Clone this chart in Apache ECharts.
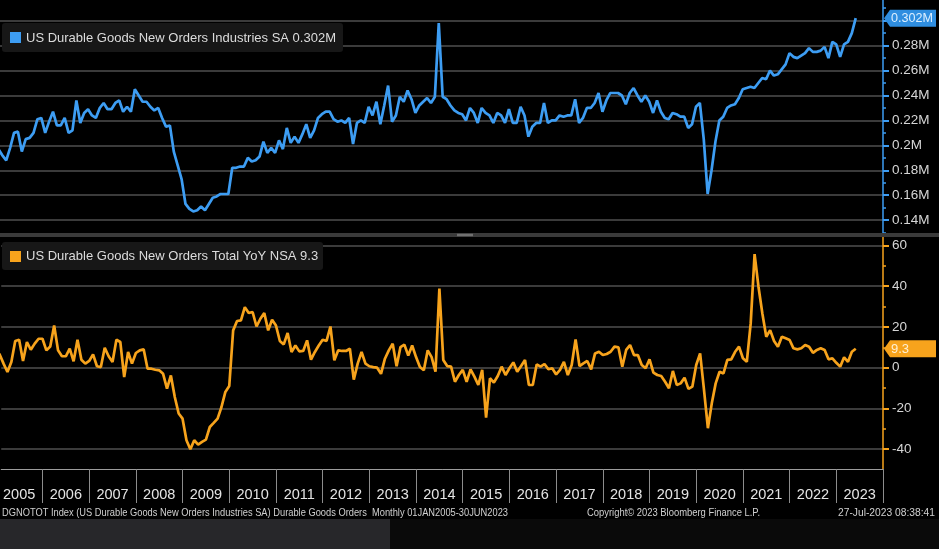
<!DOCTYPE html>
<html><head><meta charset="utf-8">
<script src="https://cdn.jsdelivr.net/npm/echarts@6/dist/echarts.min.js"></script>
<style>html,body{margin:0;padding:0;background:#000;}#c{width:939px;height:549px;}</style>
</head><body><div id="c"></div>
<script>
// ---- data ----
const years = ['2005','2006','2007','2008','2009','2010','2011','2012','2013','2014','2015','2016','2017','2018','2019','2020','2021','2022','2023'];
const durableOrders = [
0.200,0.197,0.192,0.188,0.198,0.210,0.211,0.195,0.205,0.206,0.210,0.221,
0.222,0.210,0.219,0.227,0.216,0.216,0.222,0.210,0.212,0.236,0.218,0.226,
0.229,0.224,0.222,0.230,0.234,0.229,0.229,0.234,0.236,0.227,0.231,0.227,
0.245,0.240,0.235,0.235,0.231,0.228,0.230,0.222,0.215,0.216,0.195,0.184,
0.173,0.153,0.149,0.147,0.148,0.151,0.148,0.153,0.158,0.159,0.161,0.161,
0.161,0.182,0.182,0.183,0.183,0.190,0.187,0.188,0.191,0.203,0.194,0.198,
0.194,0.204,0.197,0.214,0.202,0.207,0.202,0.209,0.217,0.206,0.212,0.222,
0.225,0.227,0.227,0.221,0.219,0.220,0.218,0.222,0.201,0.218,0.220,0.218,
0.231,0.224,0.235,0.217,0.232,0.248,0.219,0.224,0.239,0.235,0.244,0.237,
0.226,0.232,0.235,0.238,0.234,0.239,0.298,0.239,0.237,0.232,0.228,0.226,
0.225,0.220,0.230,0.226,0.218,0.230,0.226,0.224,0.218,0.226,0.224,0.218,
0.229,0.218,0.218,0.231,0.224,0.207,0.215,0.218,0.218,0.234,0.218,0.220,
0.220,0.224,0.223,0.224,0.224,0.237,0.218,0.222,0.230,0.230,0.234,0.242,
0.227,0.236,0.242,0.242,0.242,0.240,0.233,0.242,0.246,0.240,0.235,0.240,
0.235,0.226,0.236,0.227,0.222,0.221,0.226,0.225,0.223,0.223,0.214,0.217,
0.231,0.234,0.205,0.161,0.180,0.203,0.220,0.223,0.230,0.232,0.233,0.238,
0.245,0.246,0.247,0.246,0.250,0.254,0.253,0.260,0.256,0.257,0.261,0.265,
0.274,0.271,0.270,0.272,0.274,0.278,0.275,0.275,0.276,0.279,0.270,0.283,
0.281,0.271,0.281,0.283,0.290,0.302];
const durableYoY = [
8.0,6.5,2.0,-2.1,2.8,13.1,13.7,3.3,12.6,8.8,11.8,14.2,
14.2,8.5,10.4,20.7,8.5,5.6,5.6,9.3,3.1,13.7,3.9,2.0,
3.3,6.5,0.7,0.3,9.8,5.6,2.8,13.7,12.6,-4.6,7.7,2.0,
7.2,8.5,9.0,-0.5,-0.5,-1.0,-1.3,-3.0,-10.3,-3.8,-14.4,-22.5,
-25.0,-35.6,-40.0,-35.6,-37.7,-36.4,-35.3,-29.1,-27.1,-25.0,-19.3,-11.9,
-9.0,18.3,22.9,23.2,29.7,26.8,27.3,20.2,24.0,26.8,18.3,23.5,
20.7,13.1,11.4,17.0,7.7,10.9,8.0,8.2,13.4,3.9,7.7,10.9,
13.7,13.1,20.2,3.6,8.5,8.2,8.2,9.3,-5.9,2.0,7.7,2.0,
0.7,0.3,0.0,-3.0,4.4,8.5,11.8,0.7,10.1,11.3,6.0,10.9,
5.2,0.3,-1.3,8.5,5.2,-2.0,38.8,3.8,0.8,0.5,-6.9,-3.6,
-1.1,-6.9,-0.8,-4.4,-8.5,-1.1,-24.5,-5.2,-7.3,-4.1,0.5,-3.6,
-0.3,2.6,-2.0,0.8,3.8,-8.5,-8.5,1.6,0.5,1.8,-0.8,-0.3,
-3.3,-1.1,2.9,-3.6,1.3,13.9,0.8,2.1,3.3,-0.8,7.0,7.8,
6.2,6.7,7.8,10.3,10.0,0.5,8.7,11.1,6.2,6.2,1.3,-0.3,
4.1,-2.4,-3.6,-4.1,-6.9,-10.1,-1.6,-8.5,-7.7,-4.9,-10.4,-9.3,
1.3,7.0,-10.9,-29.7,-17.5,-7.7,-2.0,-2.8,3.8,4.1,7.8,10.3,
4.6,2.9,21.7,55.7,39.7,26.6,15.2,18.4,13.1,10.3,15.2,14.4,
13.6,9.5,9.0,9.5,11.1,10.3,7.3,8.7,9.5,8.7,4.1,4.6,
2.4,0.5,5.1,2.9,7.8,9.3];
const topTicks = [0.14,0.16,0.18,0.20,0.22,0.24,0.26,0.28,0.30];
const topLabels = [0.14,0.16,0.18,0.20,0.22,0.24,0.26,0.28];
const topMinor = [0.13,0.15,0.17,0.19,0.21,0.23,0.25,0.27,0.29,0.31];
const botTicks = [-40,-20,0,20,40,60];
const botMinor = [-50,-30,-10,10,30,50];
const topTitle = 'US Durable Goods New Orders Industries SA 0.302M';
const botTitle = 'US Durable Goods New Orders Total YoY NSA 9.3';
const footLeft = 'DGNOTOT Index (US Durable Goods New Orders Industries SA) Durable Goods Orders  Monthly 01JAN2005-30JUN2023';
const footMid = 'Copyright\u00a9 2023 Bloomberg Finance L.P.';
const footRight = '27-Jul-2023 08:38:41';

// x = months since Jan 2005; year boundaries (ticks) and mid-year label positions
const yearStarts = years.map((y, i) => i * 12).concat([years.length * 12]);
const yearMids = years.map((y, i) => i * 12 + 6);
const ordersPts = durableOrders.map((v, i) => [i, v]);
const yoyPts = durableYoY.map((v, i) => [i, v]);

const BLUE = '#3d9df3', ORANGE = '#f7a31c';
const FONT = '"Liberation Sans", Arial, sans-serif';
const GRID = '#4f4f4f';
const XMIN = 1.4, XMAX = 228;

const chart = echarts.init(document.getElementById('c'), null, {renderer: 'canvas'});

function minorAxis(grid, min, max, vals, color) {
  return {type: 'value', gridIndex: grid, position: 'right', min: min, max: max,
    axisLine: {show: false}, splitLine: {show: false}, axisLabel: {show: false},
    axisTick: {show: true, customValues: vals, length: 3, lineStyle: {color: color, width: 1.5}}};
}

chart.setOption({
  backgroundColor: '#000',
  animation: false,
  grid: [
    {left: 0, right: 56, top: 0, height: 233},
    {left: 0, right: 56, top: 237, height: 232}
  ],
  xAxis: [
    {type: 'value', gridIndex: 0, min: XMIN, max: XMAX, show: false, splitLine: {show: false}},
    {type: 'value', gridIndex: 1, min: XMIN, max: XMAX, position: 'bottom',
      axisLine: {show: true, onZero: false, lineStyle: {color: '#9c9c9c', width: 1}},
      axisTick: {show: true, customValues: yearStarts, length: 34, lineStyle: {color: '#8c8c8c', width: 1}},
      axisLabel: {customValues: yearMids, formatter: (v) => years[Math.round((v - 6) / 12)], color: '#e4e4e4',
        fontSize: 14.5, margin: 18, fontFamily: FONT},
      splitLine: {show: false}}
  ],
  yAxis: [
    {type: 'value', gridIndex: 0, position: 'right', min: 0.1297, max: 0.3166,
      axisLine: {show: true, lineStyle: {color: BLUE, width: 1.5}},
      axisTick: {show: true, customValues: topTicks, length: 6, lineStyle: {color: BLUE, width: 2}},
      axisLabel: {customValues: topLabels, formatter: (v) => (+(+v).toFixed(2)) + 'M', color: '#d6d6d6',
        fontSize: 13.5, margin: 9, fontFamily: FONT},
      splitLine: {show: true, lineStyle: {color: GRID, width: 1.5}}},
    minorAxis(0, 0.1297, 0.3166, topMinor, BLUE),
    {type: 'value', gridIndex: 1, position: 'right', min: -49.7, max: 64.1,
      axisLine: {show: true, lineStyle: {color: ORANGE, width: 1.5}},
      axisTick: {show: true, customValues: botTicks, length: 6, lineStyle: {color: ORANGE, width: 2}},
      axisLabel: {customValues: botTicks, formatter: (v) => String(Math.round(v)), color: '#d6d6d6',
        fontSize: 13.5, margin: 9, fontFamily: FONT},
      splitLine: {show: true, lineStyle: {color: GRID, width: 1.5}}},
    minorAxis(1, -49.7, 64.1, botMinor, ORANGE)
  ],
  series: [
    {type: 'line', name: topTitle, xAxisIndex: 0, yAxisIndex: 0, data: ordersPts, showSymbol: false,
      lineStyle: {color: BLUE, width: 2.7}, itemStyle: {color: BLUE}, z: 5},
    {type: 'line', name: botTitle, xAxisIndex: 1, yAxisIndex: 2, data: yoyPts, showSymbol: false,
      lineStyle: {color: ORANGE, width: 2.7}, itemStyle: {color: ORANGE}, z: 5}
  ]
});

// ---- overlays (legend boxes, badges, footer) ----
const mctx = document.createElement('canvas').getContext('2d');
function fit(text, font, target) { mctx.font = font; return target / mctx.measureText(text).width; }

const lastTop = durableOrders[durableOrders.length - 1];
const lastBot = durableYoY[durableYoY.length - 1];
const yTop = chart.convertToPixel({yAxisIndex: 0}, lastTop);
const yBot = chart.convertToPixel({yAxisIndex: 2}, lastBot);

function badge(y, fill, txtColor, label) {
  const f = '13px ' + FONT;
  return [
    {type: 'polygon', z: 20, shape: {points: [[884, y], [890, y - 8.5], [936, y - 8.5], [936, y + 8.5], [890, y + 8.5]]},
      style: {fill: fill}},
    {type: 'text', z: 21, x: 891, y: y + 0.5, scaleX: Math.min(1, fit(label, f, 42)),
      style: {text: label, fill: txtColor, font: f, verticalAlign: 'middle'}}
  ];
}

const footFont = '10.5px ' + FONT;
const g = [
  {type: 'rect', z: 15, shape: {x: 0, y: 233, width: 939, height: 4}, style: {fill: '#3a3a3a'}},
  {type: 'rect', z: 16, shape: {x: 457, y: 233.8, width: 16, height: 2.4}, style: {fill: '#707070'}},
  {type: 'rect', z: 15, shape: {x: 2, y: 23, width: 341, height: 29, r: 3}, style: {fill: '#171717'}},
  {type: 'rect', z: 16, shape: {x: 10, y: 32, width: 11, height: 11}, style: {fill: BLUE}},
  {type: 'text', z: 16, x: 26, y: 38, style: {text: topTitle, fill: '#dcdcdc', font: '13px ' + FONT, verticalAlign: 'middle'}},
  {type: 'rect', z: 15, shape: {x: 2, y: 242, width: 321, height: 28, r: 3}, style: {fill: '#171717'}},
  {type: 'rect', z: 16, shape: {x: 10, y: 251, width: 11, height: 11}, style: {fill: ORANGE}},
  {type: 'text', z: 16, x: 26, y: 256.5, style: {text: botTitle, fill: '#dcdcdc', font: '13px ' + FONT, verticalAlign: 'middle'}},
  {type: 'text', z: 16, x: 2, y: 513, scaleX: fit(footLeft, footFont, 506),
    style: {text: footLeft, fill: '#d0d0d0', font: footFont, verticalAlign: 'middle'}},
  {type: 'text', z: 16, x: 587, y: 513, scaleX: fit(footMid, footFont, 173),
    style: {text: footMid, fill: '#d0d0d0', font: footFont, verticalAlign: 'middle'}},
  {type: 'text', z: 16, x: 838, y: 513, scaleX: fit(footRight, footFont, 97),
    style: {text: footRight, fill: '#d0d0d0', font: footFont, verticalAlign: 'middle'}},
  {type: 'rect', z: 15, shape: {x: 0, y: 519, width: 390, height: 30}, style: {fill: '#27272a'}},
  {type: 'rect', z: 15, shape: {x: 390, y: 519, width: 549, height: 30}, style: {fill: '#0a0a0a'}}
].concat(badge(yTop, '#2f8ee0', '#dcefff', '0.302M'), badge(yBot, ORANGE, '#fff0d2', '9.3'));

chart.setOption({graphic: g});
</script></body></html>
